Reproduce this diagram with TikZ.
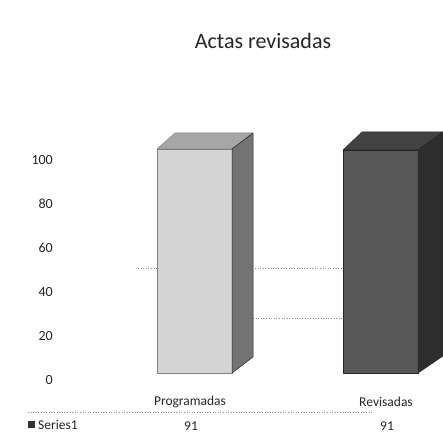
\documentclass[tikz,border=0pt]{standalone}
\usepackage{fontspec}
\setmainfont{Carlito}
\tikzset{
  ylab/.style={anchor=east, font=\fontsize{14}{16}\selectfont, text=black!85, inner sep=0pt},
  catlab/.style={anchor=center, font=\fontsize{13.5}{16}\selectfont, text=black!85, inner sep=0pt},
  grid/.style={draw=black!45, dotted, line width=0.6pt},
  face/.style={draw=black!85, line width=0.5pt, line join=round}
}
\begin{document}
\begin{tikzpicture}[x=1pt,y=-1pt]
\useasboundingbox (0,0) rectangle (443,438);
\fill[white] (0,0) rectangle (443,438);
% title
\node[font=\fontsize{22}{26}\selectfont, text=black!85] (title) at (263,41) {Actas revisadas};
% y labels
\node[ylab] (y100) at (53,160) {100};
\node[ylab] (y80) at (53,204) {80};
\node[ylab] (y60) at (53,248) {60};
\node[ylab] (y40) at (53,292) {40};
\node[ylab] (y20) at (53,336) {20};
\node[ylab] (y0) at (53,380) {0};
% gridline fragments
\coordinate (g1a) at (138,268); \coordinate (g1b) at (343,268);
\coordinate (g2a) at (253,318); \coordinate (g2b) at (343,318);
\draw[grid] (g1a) -- (g1b);
\draw[grid] (g2a) -- (g2b);
% bar 1
\fill[black!17, face, draw=black!50] (157,149) rectangle (232,373);
\fill[black!35, face, draw=black!50] (157,149) -- (232,149) -- (253,133) -- (175,133) -- cycle;
\fill[black!55, face] (232,149) -- (253,133) -- (253,357) -- (232,373) -- cycle;
% bar 2
\fill[black!66, face] (343,150) rectangle (418,373);
\fill[black!74, face] (343,150) -- (418,150) -- (443,132) -- (362,132) -- cycle;
\fill[black!82, face] (418,150) -- (443,132) -- (443,356) -- (418,373) -- cycle;
% data table
\node[catlab] (c1) at (190,402) {Programadas};
\node[catlab] (c2) at (386,402) {Revisadas};
\coordinate (t1) at (28,412); \coordinate (t2) at (372,412);
\draw[grid] (t1) -- (t2);
\fill[black!80] (28,421) rectangle (35,428);
\node[anchor=west, font=\fontsize{13.5}{16}\selectfont, text=black!85, inner sep=0pt] (s1) at (38,425) {Series1};
\node[catlab] (v1) at (191,426) {91};
\node[catlab] (v2) at (387,426) {91};
\end{tikzpicture}
\end{document}
